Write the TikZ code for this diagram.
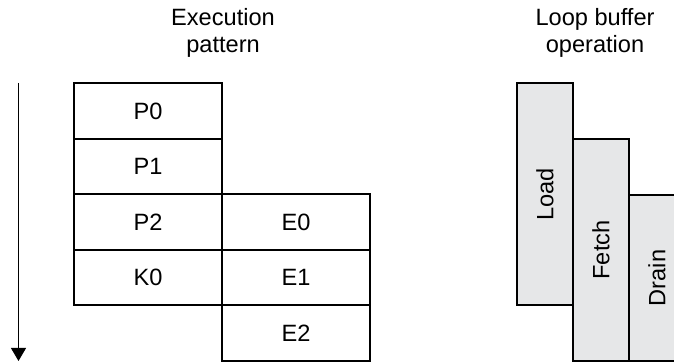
\documentclass[tikz,border=0pt]{standalone}
\usepackage{fontspec}
\setmainfont{Liberation Sans}
\usepackage{tikz}
\usetikzlibrary{arrows.meta,positioning}
\definecolor{bufgray}{RGB}{230,231,232}

\begin{document}
\begin{tikzpicture}[x=0.5pt,y=-0.5pt,
  font=\fontsize{11.8}{13.5}\selectfont,
  slot/.style={draw,line width=1pt,minimum width=74pt,minimum height=27.75pt,inner sep=0pt,align=center},
  phase/.style={draw,line width=1pt,fill=bufgray,minimum width=28pt,minimum height=111pt,inner sep=0pt},
  title/.style={align=center}]
\useasboundingbox (0,0) rectangle (674,362);
\clip (0,0) rectangle (674,362);
% execution pattern
\node[title] (exec) at (223,33) {Execution\\pattern};
\node[slot] (p0) at (148,111.25) {P0};
\node[slot] (p1) at (148,166.75) {P1};
\node[slot] (p2) at (148,222.25) {P2};
\node[slot] (k0) at (148,277.75) {K0};
\node[slot] (e0) at (296,222.25) {E0};
\node[slot] (e1) at (296,277.75) {E1};
\node[slot] (e2) at (296,333.25) {E2};
% time axis
\coordinate (tstart) at (18.5,83);
\coordinate (tend) at (18.5,361);
\draw[-{Triangle[width=7.5pt,length=6.5pt]},line width=0.5pt] (tstart) -- (tend);
% loop buffer operation
\node[title] (loop) at (595,33) {Loop buffer\\operation};
\node[phase] (load) at (545,194.5) {\rotatebox{90}{Load}};
\node[phase] (fetch) at (601,250) {\rotatebox{90}{Fetch}};
\node[phase,minimum height=83pt] (drain) at (657,278) {\rotatebox{90}{Drain}};
\end{tikzpicture}
\end{document}
